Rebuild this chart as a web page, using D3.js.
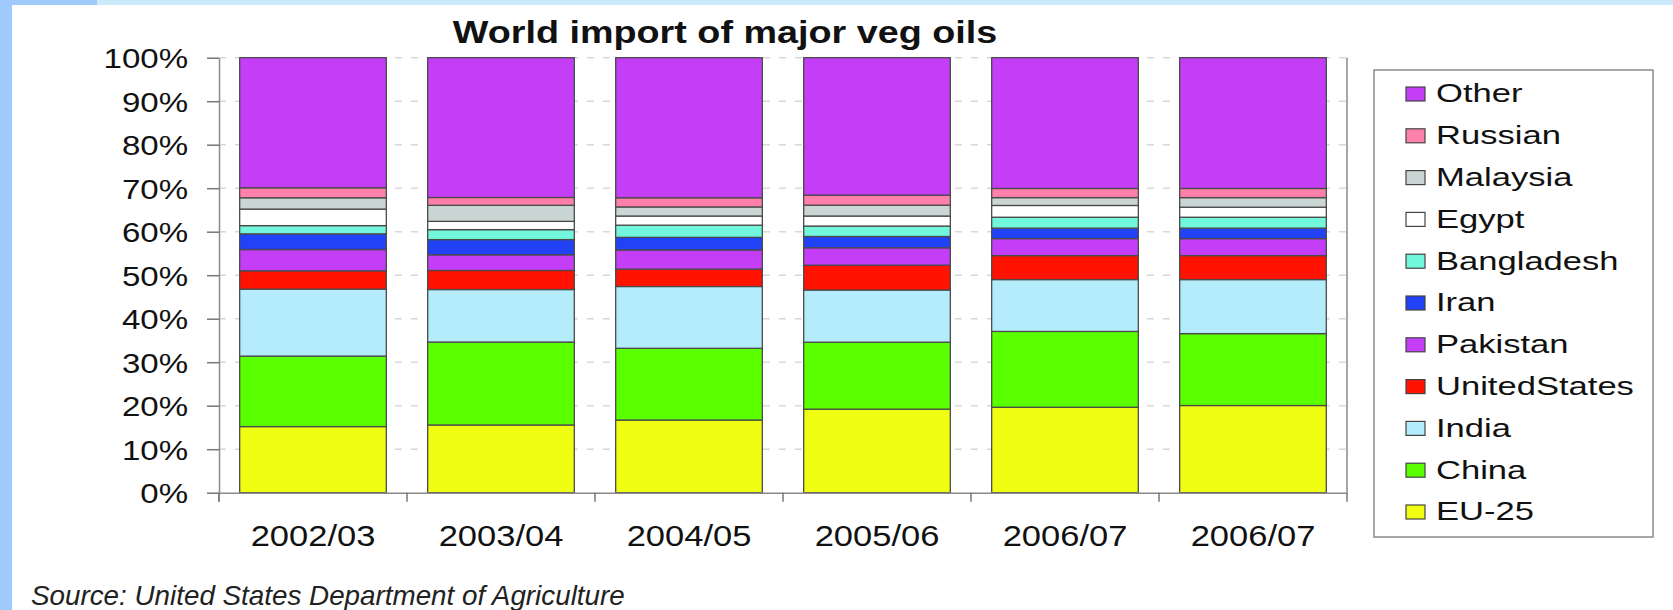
<!DOCTYPE html>
<html>
<head>
<meta charset="utf-8">
<script src="https://cdn.jsdelivr.net/npm/d3@7"></script>
<style>
  body { margin: 0; background: #ffffff; }
  text { font-family: "Liberation Sans", Arial, sans-serif; fill: #111; }
</style>
</head>
<body>
<div id="chart"></div>
<script>

// data (percent share of world imports)
const categories = ["2002/03", "2003/04", "2004/05", "2005/06", "2006/07", "2006/07"];
const seriesNames = ["EU-25", "China", "India", "UnitedStates", "Pakistan", "Iran",
                     "Bangladesh", "Egypt", "Malaysia", "Russian", "Other"];

const eu25       = [15.2, 15.6, 16.7, 19.2, 19.6, 20.0];
const china      = [16.2, 19.1, 16.5, 15.4, 17.4, 16.5];
const india      = [15.4, 12.1, 14.2, 12.0, 11.9, 12.4];
const unitedStates = [4.2, 4.4, 4.0, 5.7, 5.5, 5.5];
const pakistan   = [4.9, 3.6, 4.4, 4.0, 3.9, 3.9];
const iran       = [3.6, 3.5, 2.9, 2.6, 2.4, 2.4];
const bangladesh = [1.9, 2.3, 2.8, 2.4, 2.5, 2.5];
const egypt      = [3.8, 1.9, 2.1, 2.3, 2.7, 2.3];
const malaysia   = [2.6, 3.7, 2.1, 2.5, 1.8, 2.2];
const russian    = [2.3, 1.8, 2.1, 2.3, 2.1, 2.1];
const other      = [29.9, 32.2, 32.2, 31.6, 30.0, 30.0];

const yTicks = [0, 0.1, 0.2, 0.3, 0.4, 0.5, 0.6, 0.7, 0.8, 0.9, 1];

const seriesValues = [eu25, china, india, unitedStates, pakistan, iran,
                      bangladesh, egypt, malaysia, russian, other];

const colors = {
    "EU-25": "#f0ff12",
    "China": "#5aff00",
    "India": "#b4ecfc",
    "UnitedStates": "#ff1200",
    "Pakistan": "#c43ef8",
    "Iran": "#2242f8",
    "Bangladesh": "#72f7dc",
    "Egypt": "#ffffff",
    "Malaysia": "#cad6d4",
    "Russian": "#ff80aa",
    "Other": "#c43ef8"
};


//1. SVG CANVAS

const width = 1673;
const height = 610;

const svg = d3.select("#chart")
    .append("svg")
    .attr("width", width)
    .attr("height", height);

// blue frame strips of the slide
svg.append("rect").attr("x", 0).attr("y", 0).attr("width", width).attr("height", 5).attr("fill", "#cce8fb");
svg.append("rect").attr("x", 0).attr("y", 0).attr("width", 97).attr("height", 5).attr("fill", "#9ecbfc");
svg.append("rect").attr("x", 0).attr("y", 0).attr("width", 12).attr("height", height).attr("fill", "#9ecbfc");


//2. TABLE + STACK

const table = categories.map(function(c, i) {
    const row = { idx: i };
    seriesNames.forEach(function(s, k) { row[s] = seriesValues[k][i]; });
    return row;
});

const stacked = d3.stack()
    .keys(seriesNames)
    .offset(d3.stackOffsetExpand)(table);


//3. SCALES

const margin = { top: 57.7, left: 219, right: 326, bottom: 117.3 };

const xScale = d3.scaleBand()
    .domain(d3.range(categories.length))
    .range([margin.left, width - margin.right])
    .paddingInner(0.22)
    .paddingOuter(0.11);

const yScale = d3.scaleLinear()
    .domain([0, 1])
    .range([height - margin.bottom, margin.top]);

const SX = 1.18;   // the source picture is stretched sideways


//4. GRID

svg.append("g")
    .selectAll("line")
    .data(yTicks.slice(1))
    .enter()
    .append("line")
        .attr("x1", margin.left)
        .attr("x2", width - margin.right)
        .attr("y1", function(d) { return yScale(d); })
        .attr("y2", function(d) { return yScale(d); })
        .attr("stroke", "#d8d8d8")
        .attr("stroke-width", 1.5)
        .attr("stroke-dasharray", "7,9");


//5. BARS

const layers = svg.selectAll("g.layer")
    .data(stacked)
    .enter()
    .append("g")
        .attr("class", "layer")
        .attr("fill", function(d) { return colors[d.key]; });

layers.selectAll("rect")
    .data(function(d) { return d; })
    .enter()
    .append("rect")
        .attr("x", function(d) { return xScale(d.data.idx); })
        .attr("y", function(d) { return yScale(d[1]); })
        .attr("width", xScale.bandwidth())
        .attr("height", function(d) { return yScale(d[0]) - yScale(d[1]); })
        .attr("stroke", "#4a4a4a")
        .attr("stroke-width", 1.3);


//6. AXES

const yAxis = svg.append("g")
    .attr("transform", `translate(${margin.left},0)`)
    .call(d3.axisLeft(yScale).tickValues(yTicks).tickFormat(d3.format(".0%")).tickSize(12).tickSizeOuter(0));

yAxis.select(".domain").attr("stroke", "#8a8a8a").attr("stroke-width", 1.5);
yAxis.selectAll(".tick line").attr("stroke", "#777").attr("stroke-width", 1.5);
yAxis.selectAll(".tick text")
    .attr("x", null)
    .attr("dy", "0.36em")
    .attr("transform", `translate(-31,0) scale(${SX},1)`)
    .style("font-size", "28px")
    .style("fill", "#111");

// extend the value axis a little below zero, like the original
svg.append("line")
    .attr("x1", margin.left).attr("x2", margin.left)
    .attr("y1", yScale(0)).attr("y2", yScale(0) + 9)
    .attr("stroke", "#8a8a8a").attr("stroke-width", 1.5);

const xAxis = svg.append("g")
    .attr("transform", `translate(0,${yScale(0)})`)
    .call(d3.axisBottom(xScale).tickSize(0).tickSizeOuter(0).tickFormat(function(i) { return categories[i]; }));

xAxis.select(".domain").attr("stroke", "#8a8a8a").attr("stroke-width", 1.5);
xAxis.selectAll(".tick text")
    .attr("y", null)
    .attr("dy", "0.36em")
    .attr("transform", `translate(0,42) scale(1.15,1)`)
    .style("font-size", "30px")
    .style("fill", "#111");

// category boundary ticks
svg.append("g")
    .selectAll("line")
    .data(d3.range(categories.length + 1))
    .enter()
    .append("line")
        .attr("x1", function(k) { return xScale.range()[0] + k * xScale.step(); })
        .attr("x2", function(k) { return xScale.range()[0] + k * xScale.step(); })
        .attr("y1", yScale(0))
        .attr("y2", yScale(0) + 9)
        .attr("stroke", "#777")
        .attr("stroke-width", 1.5);

// right border of the plot area
svg.append("line")
    .attr("x1", width - margin.right).attr("x2", width - margin.right)
    .attr("y1", yScale(1)).attr("y2", yScale(0))
    .attr("stroke", "#8a8a8a").attr("stroke-width", 1.5);


//7. TITLE + SOURCE

svg.append("text")
    .attr("text-anchor", "middle")
    .attr("transform", `translate(725,43) scale(${SX},1)`)
    .style("font-size", "32px")
    .style("font-weight", "bold")
    .text("World import of major veg oils");

svg.append("text")
    .attr("transform", "translate(31,605) scale(1.03,1)")
    .style("font-size", "27px")
    .style("font-style", "italic")
    .style("fill", "#222")
    .text("Source: United States Department of Agriculture");


//8. LEGEND

const legend = svg.append("g");

legend.append("rect")
    .attr("x", 1374).attr("y", 70)
    .attr("width", 279).attr("height", 467)
    .attr("fill", "#fff")
    .attr("stroke", "#8a8a8a")
    .attr("stroke-width", 1.5);

const legendKeys = seriesNames.slice().reverse();

const items = legend.selectAll("g.item")
    .data(legendKeys)
    .enter()
    .append("g")
        .attr("class", "item")
        .attr("transform", function(d, i) { return `translate(1406,${93 + i * 41.8})`; });

items.append("rect")
    .attr("x", 0).attr("y", -6)
    .attr("width", 19).attr("height", 14)
    .attr("fill", function(d) { return colors[d]; })
    .attr("stroke", "#444")
    .attr("stroke-width", 1.2);

items.append("text")
    .attr("dy", "0.36em")
    .attr("transform", `translate(30,0) scale(1.33,1)`)
    .style("font-size", "26px")
    .text(function(d) { return d; });

</script>
</body>
</html>
